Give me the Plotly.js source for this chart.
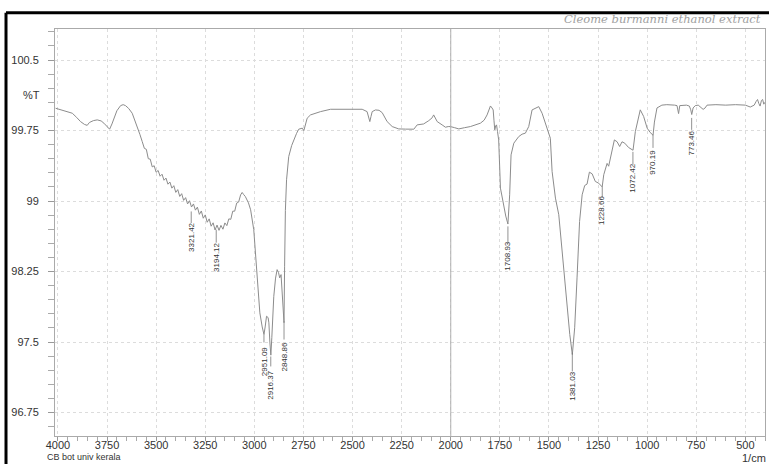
<!DOCTYPE html>
<html>
<head>
<meta charset="utf-8">
<script src="https://cdn.plot.ly/plotly-3.0.1.min.js"></script>
<style>html,body{margin:0;padding:0;background:#fff;}#chart{width:769px;height:464px;}</style>
</head>
<body>
<div id="chart"></div>
<script>
// Wavenumber (1/cm) and transmittance (%T)
const wavenumber = [
4012,3970,3927,3905,3885,3865,3851,3840,3820,3800,3780,3766,3750,3737,3725,3715,3700,3681,3668,3656,3640,3622,3610,3596,3583,3571,3560,
3550,3540,3530,3520,3510,3500,3490,3480,3470,3460,3450,3440,3430,3420,3410,3400,3390,3380,3370,3360,3350,3340,3330,3320,3310,3300,
3290,3280,3270,3260,3250,3240,3230,3220,3210,3200,3190,3180,3170,3160,3150,3140,3130,3120,3110,3100,3090,3080,3070,3062,3055,
3046,3030,3019,3003,2986,2972,2960,2951,2945,2938,2930,2926,2921,2916,2911,2905,2901,2892,2884,2877,2871,2864,2858,2852,2849,2846,
2842,2836,2825,2810,2799,2785,2774,2756,2748,2740,2731,2714,2690,2663,2612,2560,2510,2451,2426,2418,2412,2406,2400,2383,2365,2349,
2335,2324,2298,2265,2230,2188,2171,2138,2112,2095,2087,2078,2069,2044,2027,2013,2002,1980,1959,1930,1900,1849,1830,1815,1805,1798,
1790,1784,1780,1776,1771,1767,1762,1756,1747,1730,1720,1709,1704,1700,1693,1679,1654,1637,1620,1603,1586,1569,1552,1535,1509,1493,
1484,1467,1450,1433,1411,1394,1381,1369,1357,1344,1331,1318,1306,1294,1280,1264,1247,1238,1229,1221,1204,1196,1179,1167,1153,1140,
1128,1114,1095,1080,1072,1060,1035,1018,1000,985,970,963,950,925,900,860,848,840,834,800,785,778,773,766,755,740,725,715,705,695,
650,600,550,500,475,455,445,438,432,425,418,412,406,401
];
const transmittance = [
99.987,99.96,99.934,99.89,99.845,99.815,99.805,99.835,99.855,99.863,99.852,99.828,99.79,99.764,99.82,99.881,99.96,100.015,100.025,100.015,99.985,99.934,99.87,99.792,99.71,99.633,99.56,
99.55,99.45,99.445,99.363,99.375,99.306,99.325,99.264,99.285,99.221,99.244,99.179,99.202,99.137,99.163,99.092,99.121,99.049,99.078,99.007,99.036,98.969,99.003,98.936,98.969,98.903,
98.935,98.858,98.894,98.817,98.852,98.774,98.81,98.732,98.768,98.692,98.744,98.688,98.741,98.70,98.767,98.738,98.81,98.805,98.892,98.892,98.978,98.989,99.065,99.091,99.07,
99.048,98.98,98.907,98.695,98.164,97.81,97.66,97.58,97.66,97.774,97.76,97.704,97.50,97.36,97.55,97.84,97.986,98.18,98.27,98.24,98.182,98.217,98.05,97.80,97.707,98.30,
98.90,99.226,99.473,99.59,99.65,99.72,99.764,99.775,99.749,99.80,99.881,99.916,99.935,99.951,99.976,99.978,99.976,99.976,99.951,99.90,99.845,99.90,99.951,99.969,99.965,99.94,
99.89,99.845,99.792,99.767,99.765,99.764,99.81,99.82,99.855,99.885,99.916,99.88,99.845,99.81,99.785,99.792,99.792,99.78,99.767,99.78,99.792,99.828,99.86,99.916,99.975,100.011,
99.99,99.969,99.86,99.757,99.80,99.81,99.74,99.65,99.137,98.925,98.84,98.755,98.95,99.066,99.491,99.615,99.685,99.711,99.722,99.792,99.969,99.987,100.004,99.934,99.775,99.668,
99.314,99.031,98.854,98.464,98.004,97.58,97.367,97.651,98.182,98.783,99.066,99.165,99.18,99.307,99.289,99.208,99.19,99.17,99.15,99.28,99.40,99.37,99.54,99.65,99.63,99.58,
99.63,99.615,99.57,99.555,99.54,99.74,99.97,99.90,99.775,99.73,99.70,99.84,99.99,100.02,100.025,100.02,100.015,99.93,100.015,100.02,100.01,99.97,99.92,99.99,100.015,100.02,99.99,99.975,99.99,100.02,
100.025,100.02,100.025,100.02,100.0,100.02,100.06,100.08,100.04,100.01,100.07,100.08,100.03,100.05
];

// Peak labels
const peakWn = [3321.42, 3194.12, 2951.09, 2916.37, 2848.86, 1708.93, 1381.03, 1228.66, 1072.42, 970.19, 773.46];
const peakText = ["3321.42","3194.12","2951.09","2916.37","2848.86","1708.93","1381.03","1228.66","1072.42","970.19","773.46"];

// Layout positions of label leaders (top, bottom) and label centres in %T
const leaderTop = [98.889, 98.695, 97.580, 97.346, 97.718, 98.730, 97.388, 99.151, 99.523, 99.704, 99.884];
const leaderBot = [98.766, 98.557, 97.495, 97.240, 97.526, 98.553, 97.187, 99.034, 99.385, 99.565, 99.757];
const labelMid  = [98.610, 98.397, 97.296, 97.043, 97.335, 98.418, 97.027, 98.896, 99.247, 99.406, 99.619];

const trace = {
  x: wavenumber, y: transmittance, type: 'scatter', mode: 'lines',
  line: {color: '#8c8c8c', width: 1}, hoverinfo: 'skip'
};

const shapes = [];
const annotations = [];
peakWn.forEach((w, i) => {
  shapes.push({type:'line', xref:'x', yref:'y', x0:w, x1:w, y0:leaderTop[i], y1:leaderBot[i],
    line:{color:'#777', width:0.8}});
  annotations.push({x:w, y:labelMid[i], xref:'x', yref:'y', text:peakText[i], showarrow:false,
    textangle:-90, xanchor:'center', yanchor:'middle',
    font:{family:'Liberation Sans, Arial, sans-serif', size:8, color:'#333'}});
});

// vertical line at 2000 1/cm
shapes.push({type:'line', xref:'x', yref:'paper', x0:2000, x1:2000, y0:0, y1:1, line:{color:'#b0b0b0', width:1}});
// scan frame (thick black lines)
shapes.push({type:'line', xref:'paper', yref:'paper', x0:-0.069, x1:1.01, y0:1.04, y1:1.04, line:{color:'#000', width:3}});
shapes.push({type:'line', xref:'paper', yref:'paper', x0:-0.069, x1:-0.069, y0:1.04, y1:-0.08, line:{color:'#000', width:3}});

annotations.push({xref:'paper', yref:'y', x:-0.0324, y:100.13, text:'%T', showarrow:false, xanchor:'center', yanchor:'middle',
  font:{family:'Liberation Sans, Arial, sans-serif', size:11, color:'#333'}});
annotations.push({xref:'paper', yref:'paper', x:0.985, y:-0.054, text:'1/cm', showarrow:false, xanchor:'center', yanchor:'middle',
  font:{family:'Liberation Sans, Arial, sans-serif', size:11, color:'#333'}});
annotations.push({xref:'paper', yref:'paper', x:-0.012, y:-0.0675, text:'CB bot univ kerala', showarrow:false, xanchor:'left', yanchor:'bottom',
  borderpad:0, font:{family:'Liberation Sans, Arial, sans-serif', size:9, color:'#333'}});
annotations.push({xref:'paper', yref:'paper', x:0.714, y:1.025, text:'Cleome burmanni ethanol extract', showarrow:false, xanchor:'left', yanchor:'middle',
  font:{family:'DejaVu Serif, serif', size:11.5, color:'#a0a0a0', style:'italic'}});

const axisFont = {family:'Liberation Sans, Arial, sans-serif', size:11, color:'#333'};
const layout = {
  width: 769, height: 464,
  margin: {l:55, r:4, t:29, b:28, pad:0},
  paper_bgcolor: '#fff', plot_bgcolor: '#fff',
  showlegend: false,
  font: axisFont,
  xaxis: {
    range: [4015, 400], autorange: false,
    tickmode: 'linear', tick0: 500, dtick: 250,
    ticks: 'outside', ticklen: 4, tickcolor: '#999', tickfont: axisFont,
    ticklabelstandoff: -5,
    showline: true, linecolor: '#aaa', linewidth: 1, mirror: true,
    showgrid: true, gridcolor: '#dcdcdc', griddash: 'dot', gridwidth: 1,
    zeroline: false,
    minor: {dtick: 50, tick0: 0, ticks: 'outside', ticklen: 4, tickcolor: '#aaa', showgrid: false}
  },
  yaxis: {
    range: [96.5, 100.83], autorange: false,
    tickmode: 'linear', tick0: 96.75, dtick: 0.75,
    ticks: 'outside', ticklen: 6, tickcolor: '#999', tickfont: axisFont,
    ticklabelstandoff: 7,
    showline: true, linecolor: '#aaa', linewidth: 1, mirror: true,
    showgrid: true, gridcolor: '#dcdcdc', griddash: 'dot', gridwidth: 1,
    zeroline: false,
    minor: {dtick: 0.15, tick0: 96.75, ticks: 'outside', ticklen: 6, tickcolor: '#aaa', showgrid: false}
  },
  shapes: shapes,
  annotations: annotations
};

Plotly.newPlot('chart', [trace], layout, {displayModeBar: false, staticPlot: true});
</script>
</body>
</html>
